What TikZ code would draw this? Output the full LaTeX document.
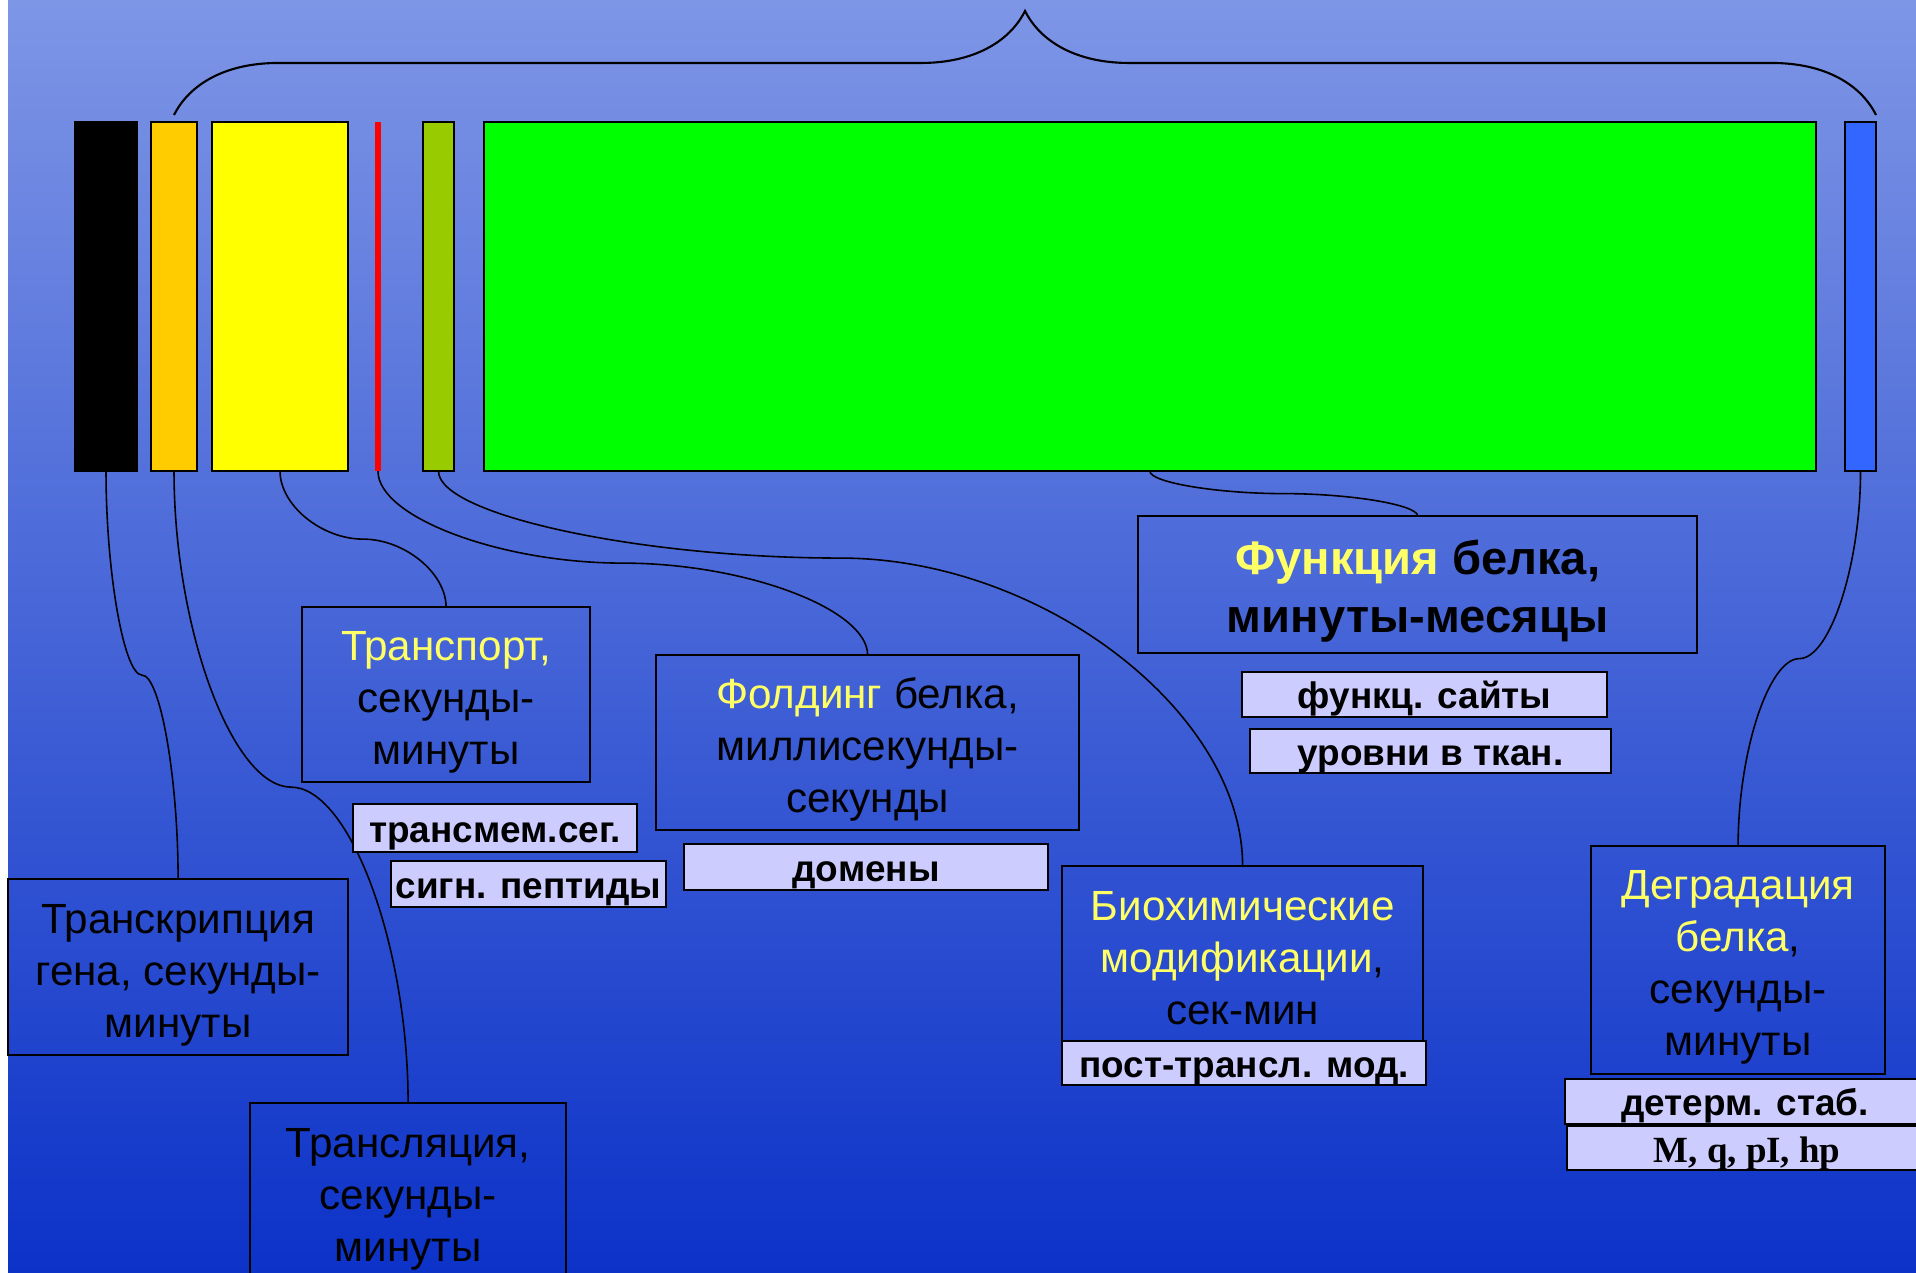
\documentclass[tikz,border=0pt]{standalone}
\usepackage{fontspec}
\setmainfont{Liberation Sans}
\newfontfamily\tagserif{Liberation Serif}
\usetikzlibrary{calc, decorations.pathreplacing}

\definecolor{bgtop}{RGB}{126,150,230}
\definecolor{bgbottom}{RGB}{12,50,200}
\definecolor{barorange}{RGB}{255,204,0}
\definecolor{baryellow}{RGB}{255,255,0}
\definecolor{barolive}{RGB}{153,204,0}
\definecolor{bargreen}{RGB}{0,255,0}
\definecolor{barblue}{RGB}{51,102,255}
\definecolor{tagfill}{RGB}{204,204,255}
\definecolor{hilite}{RGB}{255,255,102}

\tikzset{
  bar/.style={draw=black, line width=0.45pt, anchor=north west, minimum height=3.49cm, inner sep=0pt, outer sep=0pt},
  stage/.style={draw=black, line width=0.65pt, anchor=north west, inner sep=0pt, outer sep=0pt, align=center,
    font=\fontsize{12}{14.8}\selectfont},
  tag/.style={draw=black, fill=tagfill, line width=0.65pt, anchor=north west, inner sep=0pt, outer sep=0pt,
    text height=1em, text depth=0.2em, font=\bfseries\fontsize{10.5}{12}\selectfont},
  link/.style={draw=black, line width=0.45pt},
  span/.style={decorate, decoration={brace, amplitude=1.04cm, raise=0.07cm}, line width=0.6pt}
}

% invisible strut that pushes the first text line down
\newcommand{\lift}[1][1.07em]{\rule{0pt}{#1}}

% curved elbow connector: [elbow fraction]{from}{to}
\newcommand{\elbowlink}[3][0.5]{%
  \coordinate (s) at (#2);
  \coordinate (e) at (#3);
  \coordinate (p) at ($(s)!#1!(e)$);
  \coordinate (c) at ($(s)!0.5!(e)$);
  \coordinate (m) at (c |- p);
  \coordinate (q1) at ($(s)!0.5!(p)$);
  \coordinate (q2) at ($(s)!0.5!(m)$);
  \coordinate (q3) at ($(m)!0.5!(e)$);
  \coordinate (q4) at ($(p)!0.5!(e)$);
  \draw[link] (s) .. controls (s |- q1) and (q2 |- p) .. (m)
    .. controls (q3 |- p) and (e |- q4) .. (e);
}

\begin{document}
\begin{tikzpicture}[x=0.01cm, y=-0.01cm]
  % frame and backdrop
  \useasboundingbox (0,0) rectangle (1916,1272);
  \clip (0,0) rectangle (1916,1272);
  \fill[white] (0,0) rectangle (8,1272);
  \shade[top color=bgtop, bottom color=bgbottom] (8,0) rectangle (1916,1272);

  % time bars
  \node[bar, fill=black, minimum width=0.62cm] (tcbar) at (75,122) {};
  \node[bar, fill=barorange, minimum width=0.46cm] (tlbar) at (151,122) {};
  \node[bar, fill=baryellow, minimum width=1.36cm] (tpbar) at (212,122) {};
  \node[bar, draw=none, fill=red, minimum width=0.06cm] (fdbar) at (375,122) {};
  \node[bar, fill=barolive, minimum width=0.31cm] (mdbar) at (423,122) {};
  \node[bar, fill=bargreen, minimum width=13.31cm] (fnbar) at (484,122) {};
  \node[bar, fill=barblue, minimum width=0.31cm] (dgbar) at (1845,122) {};

  % brace over the whole life time
  \draw[span] (tlbar.north) -- (dgbar.north east);

  % stage boxes
  \node[stage, minimum width=3.40cm, minimum height=1.76cm] (tcbox) at (8,879)
    {\lift Транскрипция\\гена, секунды-\\минуты};
  \node[stage, minimum width=3.16cm, minimum height=1.76cm] (tlbox) at (250,1103)
    {\lift Трансляция,\\секунды-\\минуты};
  \node[stage, minimum width=2.88cm, minimum height=1.75cm] (tpbox) at (302,607)
    {\lift\textcolor{hilite}{Транспорт,}\\секунды-\\минуты};
  \node[stage, minimum width=4.23cm, minimum height=1.75cm] (fdbox) at (656,655)
    {\lift[1.05em]\textcolor{hilite}{Фолдинг} белка,\\миллисекунды-\\секунды};
  \node[stage, font=\bfseries\fontsize{13.4}{16.4}\selectfont, minimum width=5.59cm, minimum height=1.37cm] (fnbox) at (1138,516)
    {\lift[1em]\textcolor{hilite}{Функция} белка,\\минуты-месяцы};
  \node[stage, minimum width=3.61cm, minimum height=1.75cm] (mdbox) at (1062,866)
    {\lift[0.9em]\textcolor{hilite}{Биохимические}\\\textcolor{hilite}{модификации},\\сек-мин};
  \node[stage, minimum width=2.94cm, minimum height=2.28cm] (dgbox) at (1591,846)
    {\lift[1.05em]\textcolor{hilite}{Деградация}\\\textcolor{hilite}{белка},\\секунды-\\минуты};

  % connectors
  \elbowlink{tcbar.south}{tcbox.north}
  \elbowlink{tlbar.south}{tlbox.north}
  \elbowlink{tpbar.south}{tpbox.north}
  \elbowlink{fdbar.south}{fdbox.north}
  \elbowlink[0.22]{mdbar.south}{mdbox.north}
  \elbowlink{fnbar.south}{fnbox.north}
  \elbowlink{dgbar.south}{dgbox.north}

  % feature tags
  \node[tag, minimum width=2.84cm, minimum height=0.48cm] (tmseg) at (353,804) {трансмем.сег.};
  \node[tag, minimum width=2.75cm, minimum height=0.46cm] (sigpep) at (391,861) {сигн. пептиды};
  \node[tag, minimum width=3.64cm, minimum height=0.46cm] (domains) at (684,844) {домены};
  \node[tag, minimum width=3.65cm, minimum height=0.45cm] (sites) at (1242,672) {функц. сайты};
  \node[tag, minimum width=3.61cm, minimum height=0.44cm] (levels) at (1250,729) {уровни в ткан.};
  \node[tag, minimum width=3.64cm, minimum height=0.44cm] (ptm) at (1062,1041) {пост-трансл. мод.};
  \node[tag, minimum width=3.60cm, minimum height=0.45cm] (stab) at (1565,1079) {детерм. стаб.};
  \node[tag, font=\tagserif\bfseries\fontsize{10.5}{12}\selectfont, minimum width=3.60cm, minimum height=0.44cm] (props) at (1567,1126) {M, q, pI, hp};
\end{tikzpicture}
\end{document}
